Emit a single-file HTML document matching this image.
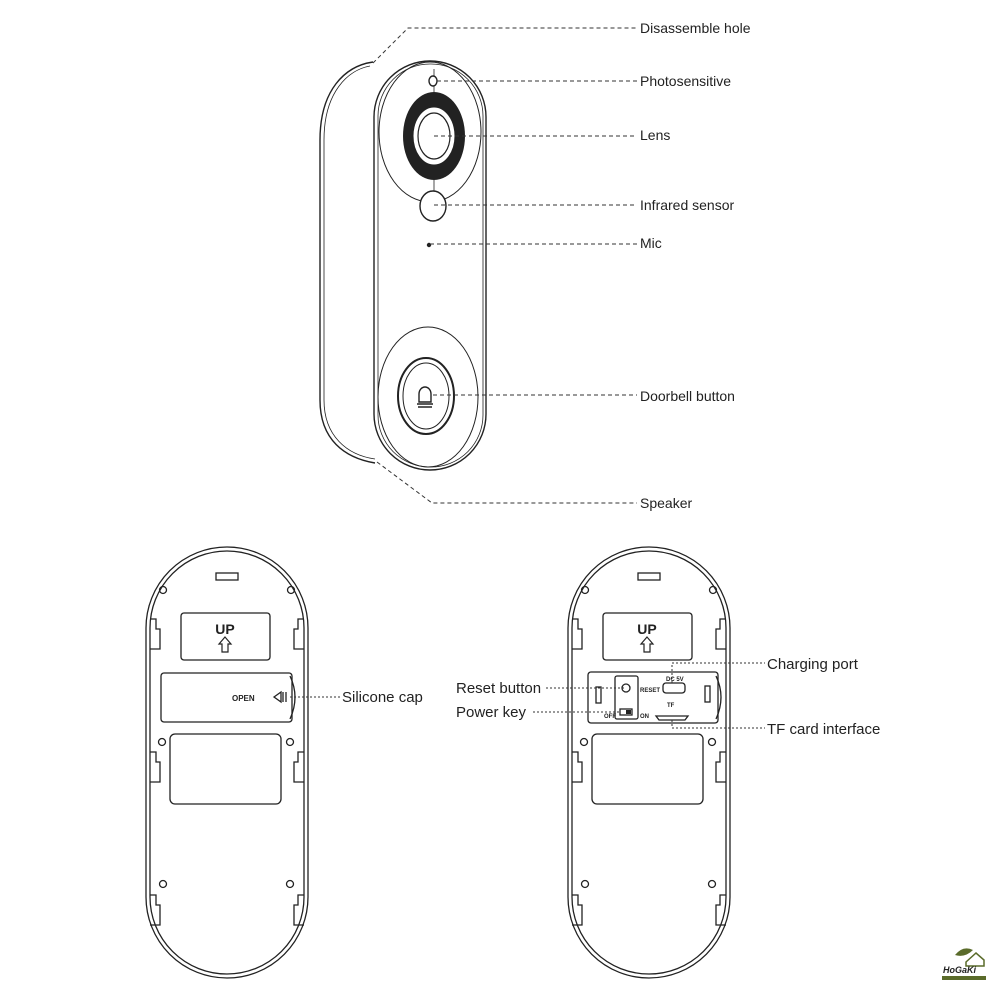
<!DOCTYPE html>
<html><head><style>
html,body{margin:0;padding:0;background:#fff;}
svg{display:block}
text{font-family:"Liberation Sans",sans-serif;fill:#222}
</style></head><body>
<svg width="1000" height="1000" viewBox="0 0 1000 1000" xmlns="http://www.w3.org/2000/svg">
<defs>
<g id="back" fill="none" stroke="#222" stroke-width="1.3">
  <rect x="0" y="0" width="162" height="431" rx="81" ry="81"/>
  <rect x="4" y="4" width="154" height="423" rx="77" ry="77"/>
  <rect x="70" y="26" width="22" height="7"/>
  <circle cx="17" cy="43" r="3.5"/><circle cx="145" cy="43" r="3.5"/>
  <circle cx="16" cy="195" r="3.5"/><circle cx="144" cy="195" r="3.5"/>
  <circle cx="17" cy="337" r="3.5"/><circle cx="144" cy="337" r="3.5"/>
  <path d="M4 72 h6 v10 h4 v20 h-10"/><path d="M158 72 h-6 v10 h-4 v20 h10"/>
  <path d="M4 205 h6 v10 h4 v20 h-10"/><path d="M158 205 h-6 v10 h-4 v20 h10"/>
  <path d="M4 348 h6 v10 h4 v20 h-10"/><path d="M158 348 h-6 v10 h-4 v20 h10"/>
  <rect x="35" y="66" width="89" height="47" rx="3"/>
  <rect x="24" y="187" width="111" height="70" rx="5"/>
  <text x="79" y="87" text-anchor="middle" font-size="14" font-weight="bold" fill="#222" stroke="none">UP</text>
  <path d="M79 90 l-6 7 h3 v8 h6 v-8 h3 z" stroke-width="1.2"/>
</g>
</defs>

<!-- front device -->
<g fill="none" stroke="#222" stroke-width="1.4">
  <path d="M373 62 C345 66 320 90 320 140 L320 400 C320 440 345 458 375 463"/>
  <path d="M370 66 C348 70 324 92 324 140 L324 400 C324 436 347 455 375 459" stroke-width="0.8"/>
  <rect x="374" y="61" width="112" height="409" rx="56" ry="56"/>
  <rect x="378" y="64" width="105" height="403" rx="52" ry="52" stroke-width="0.8"/>
  <ellipse cx="430" cy="132" rx="51" ry="70" stroke-width="1"/>
  <ellipse cx="434" cy="136" rx="31" ry="44" fill="#222" stroke="none"/>
  <ellipse cx="434" cy="136" rx="21" ry="29" fill="#fff" stroke="#222" stroke-width="1"/>
  <ellipse cx="434" cy="136" rx="16" ry="23" stroke-width="1.2"/>
  <line x1="434" y1="69" x2="434" y2="92" stroke-width="0.8"/>
  <ellipse cx="433" cy="81" rx="4" ry="5" fill="#fff"/>
  <line x1="434" y1="180" x2="434" y2="196" stroke-width="0.8"/>
  <ellipse cx="433" cy="206" rx="13" ry="15" fill="#fff"/>
  <circle cx="429" cy="245" r="1.5" fill="#222"/>
  <ellipse cx="428" cy="397" rx="50" ry="70" stroke-width="1"/>
  <ellipse cx="426" cy="396" rx="28" ry="38" stroke-width="2"/>
  <ellipse cx="426" cy="396" rx="23" ry="33" stroke-width="1"/>
  <path d="M419 402 v-8 a6 7 0 0 1 12 0 v8 z M417 404 h16 M418 407 h14" stroke-width="1.4"/>
</g>

<!-- front leaders -->
<g fill="none" stroke="#333" stroke-width="1" stroke-dasharray="4,3">
  <path d="M373 63 L408 28 H637"/>
  <path d="M437 81 H637"/>
  <path d="M434 136 H637"/>
  <path d="M434 205 H637"/>
  <path d="M430 244 H637"/>
  <path d="M433 395 H637"/>
  <path d="M377 462 L432 503 H637"/>
</g>
<g font-size="14">
  <text x="640" y="33">Disassemble hole</text>
  <text x="640" y="86">Photosensitive</text>
  <text x="640" y="140">Lens</text>
  <text x="640" y="210">Infrared sensor</text>
  <text x="640" y="248">Mic</text>
  <text x="640" y="401">Doorbell button</text>
  <text x="640" y="508">Speaker</text>
</g>

<!-- back left -->
<use href="#back" x="146" y="547"/>
<g fill="none" stroke="#222" stroke-width="1.3">
  <rect x="161" y="673" width="131" height="49" rx="3"/>
  <path d="M290 676 Q300 697 290 719"/>
  <path d="M274 697 l7 -5 v10 z M283 692 v10 M286 692 v10" stroke-width="1.3"/>
</g>
<text x="232" y="701" font-size="8" font-weight="bold">OPEN</text>
<path d="M290 697 H340" stroke="#333" stroke-dasharray="2,2" fill="none"/>
<text x="342" y="702" font-size="15">Silicone cap</text>

<!-- back right -->
<use href="#back" x="568" y="547"/>
<g fill="none" stroke="#222" stroke-width="1.3">
  <rect x="588" y="672" width="130" height="51" rx="3"/>
  <path d="M716 676 Q726 697 716 719"/>
  <rect x="596" y="687" width="5" height="16"/>
  <rect x="705" y="686" width="5" height="16"/>
  <rect x="615" y="676" width="23" height="43" rx="2"/>
  <circle cx="626" cy="688" r="4"/>
  <rect x="620" y="709" width="12" height="6"/>
  <rect x="663" y="683" width="22" height="10" rx="3"/>
  <path d="M656 716 h32 l-3 4 h-26 z"/>
</g>
<rect x="626" y="710" width="5" height="4" fill="#222"/>
<g font-size="6" font-weight="bold">
  <text x="640" y="692">RESET</text>
  <text x="666" y="681">DC 5V</text>
  <text x="667" y="707">TF</text>
  <text x="604" y="718">OFF</text>
  <text x="640" y="718">ON</text>
</g>
<g fill="none" stroke="#333" stroke-width="1" stroke-dasharray="2,2">
  <path d="M546 688 H626"/>
  <path d="M533 712 H620"/>
  <path d="M672 683 V663 H765"/>
  <path d="M672 720 V728 H765"/>
</g>
<g font-size="15">
  <text x="456" y="693">Reset button</text>
  <text x="456" y="717">Power key</text>
  <text x="767" y="669">Charging port</text>
  <text x="767" y="734">TF card interface</text>
</g>

<!-- logo -->
<path d="M955 955 q8 -10 18 -5 q-8 8 -18 5z" fill="#5a6b2a"/>
<path d="M966 962 l10 -9 l8 7 v6 h-18z" fill="none" stroke="#5a6b2a" stroke-width="1.5"/>
<text x="943" y="973" font-size="9" font-weight="bold" font-style="italic" fill="#333">HoGaKi</text>
<rect x="942" y="976" width="44" height="4" fill="#5a6b2a"/>
</svg>
</body></html>
